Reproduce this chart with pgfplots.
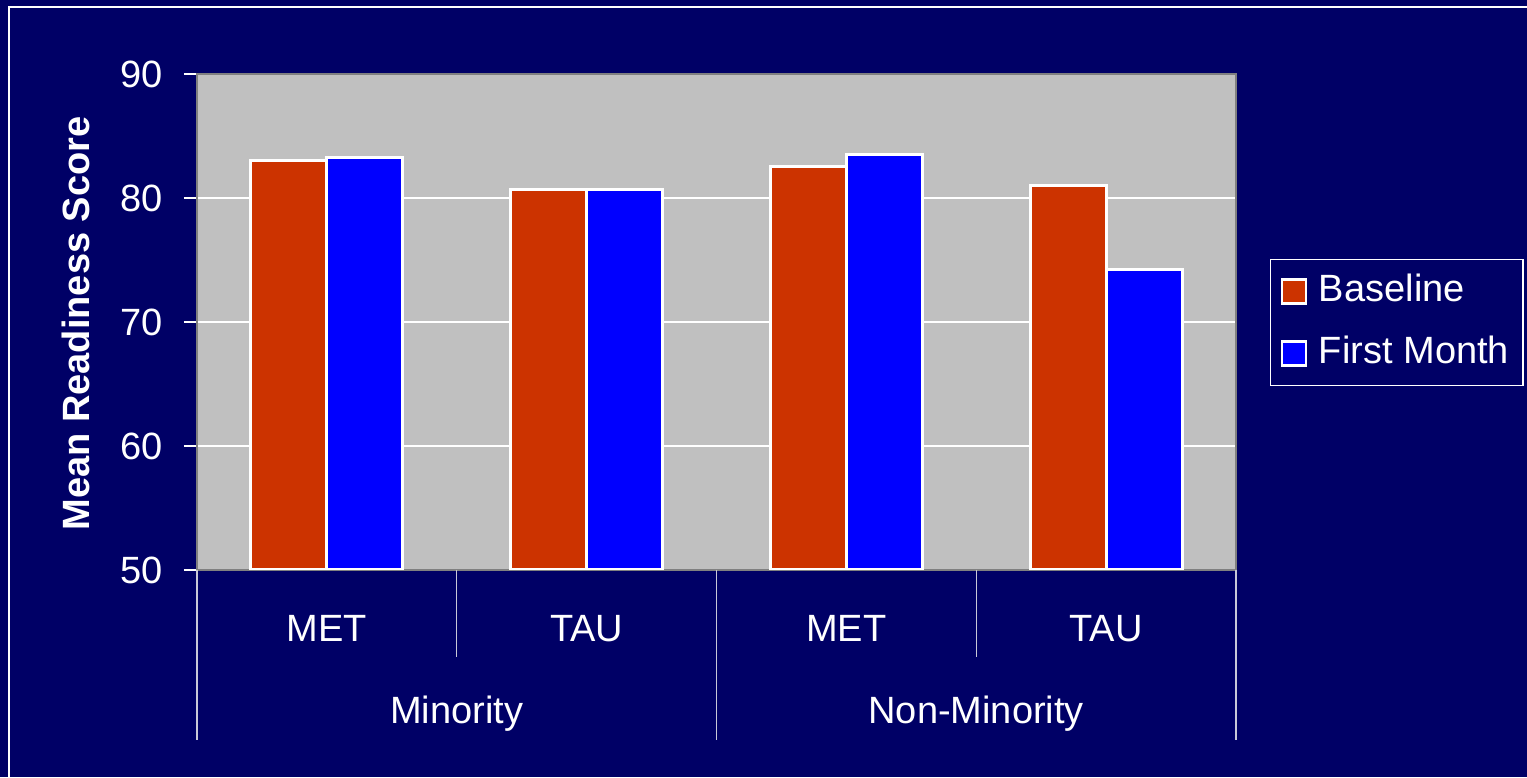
\documentclass[border=0pt]{standalone}
\usepackage{fontspec}
\setmainfont{Liberation Sans}
\usepackage{pgfplots}
\pgfplotsset{compat=1.18}

\definecolor{navy}{HTML}{000066}
\definecolor{plotgray}{HTML}{C0C0C0}
\definecolor{edgegray}{HTML}{808080}
\definecolor{baseRed}{HTML}{CC3300}
\definecolor{monthBlue}{HTML}{0000FF}
\definecolor{sepgray}{HTML}{C8C8D8}

\newcommand{\chartfont}{\fontsize{19}{22}\selectfont}

\begin{document}
\begin{tikzpicture}
% slide background and frame
\fill[navy] (0pt,0pt) rectangle (763.5pt,388.5pt);
\draw[white, line width=0.6pt] (4.5pt,0pt) -- (4.5pt,385pt) -- (763.5pt,385pt);

\begin{axis}[
  at={(98.5pt,103.5pt)}, anchor=south west,
  scale only axis, width=519.5pt, height=248pt,
  xmin=-0.5, xmax=3.5, ymin=50, ymax=90,
  ybar=0pt, bar width=38pt,
  xtick={0,1,2,3}, xticklabels={MET,TAU,MET,TAU},
  ytick={50,60,70,80,90},
  ymajorgrids, grid style={white, line width=0.6pt},
  axis background/.style={fill=plotgray},
  axis line style={edgegray, line width=1.2pt},
  tick align=outside, major tick length=6.5pt,
  ytick pos=left,
  x tick style={draw=none},
  y tick style={white, line width=0.6pt},
  tick label style={text=white, font=\chartfont},
  /pgf/number format/assume math mode=true,
  yticklabel style={anchor=east, inner sep=0pt, xshift=-10.5pt},
  xticklabel style={anchor=base, inner sep=0pt, yshift=-29pt},
  ylabel={Mean Readiness Score},
  ylabel style={at={(rel axis cs:-0.1165,0.497)}, anchor=center,
    font=\bfseries\chartfont, text=white},
  clip mode=individual,
  legend cell align=left,
  legend style={at={(rel axis cs:1.0327,0.627)}, anchor=north west,
    draw=white, line width=0.6pt, fill=navy, text=white, font=\chartfont,
    inner xsep=5pt, inner ysep=5pt, row sep=9pt, column sep=4pt,
    nodes={text height=14pt, text depth=4pt}},
  legend image code/.code={\draw[#1, draw=white, line width=1.2pt]
    (1pt,-6pt) rectangle (13pt,6pt);},
]
\addplot[fill=baseRed, draw=white, line width=1.5pt]
  coordinates {(0,83.0) (1,80.7) (2,82.5) (3,81.0)};
\addplot[fill=monthBlue, draw=white, line width=1.5pt]
  coordinates {(0,83.3) (1,80.7) (2,83.5) (3,74.2)};
\legend{Baseline, First Month}

% group separators below the category axis
\draw[sepgray, line width=0.6pt] (axis cs:-0.5,50) -- ++(0pt,-85pt);
\draw[sepgray, line width=0.6pt] (axis cs:0.5,50) -- ++(0pt,-43.5pt);
\draw[sepgray, line width=0.6pt] (axis cs:1.5,50) -- ++(0pt,-85pt);
\draw[sepgray, line width=0.6pt] (axis cs:2.5,50) -- ++(0pt,-43.5pt);
\draw[sepgray, line width=0.6pt] (axis cs:3.5,50) -- ++(0pt,-85pt);

% group labels
\node[anchor=base, text=white, font=\chartfont, inner sep=0pt]
  at ([yshift=-76.5pt]axis cs:0.5,50) {Minority};
\node[anchor=base, text=white, font=\chartfont, inner sep=0pt]
  at ([yshift=-76.5pt]axis cs:2.5,50) {Non-Minority};
\end{axis}

\pgfresetboundingbox
\useasboundingbox (0pt,0pt) rectangle (763.5pt,388.5pt);
\end{tikzpicture}
\end{document}
